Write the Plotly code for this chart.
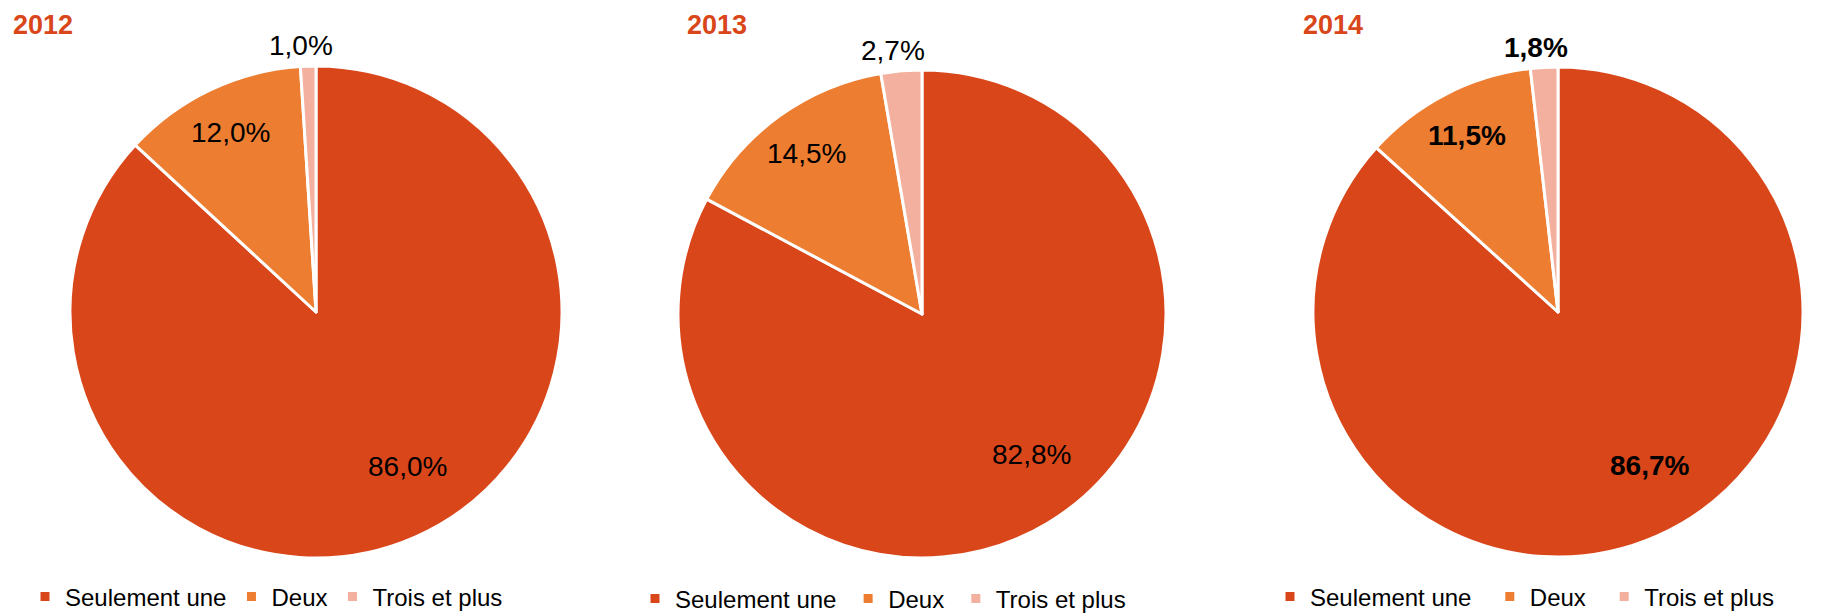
import math
import plotly.graph_objects as go

# ---- data ----
years = ["2012", "2013", "2014"]
categories = ["Seulement une", "Deux", "Trois et plus"]
values_2012 = [86.0, 12.0, 1.0]
values_2013 = [82.8, 14.5, 2.7]
values_2014 = [86.7, 11.5, 1.8]
series = [values_2012, values_2013, values_2014]
bold_labels = [False, False, True]

# ---- style ----
colors = ["#D9461A", "#ED7D31", "#F4B09E"]
title_color = "#D9461A"
FONT = "Arial, 'Liberation Sans', sans-serif"
W, H = 1833, 615

# pie centres / radii in pixels (layout)
pies = [(316, 312, 246), (922, 314, 244), (1558, 312, 245)]
title_x = [11, 685, 1301]
legend_pos = [(25, 597), (635, 599), (1270, 597)]
# label placement style: radius fraction and angular tweak (deg) per category
label_rfrac = [0.73, 0.81, 1.085]
label_dang = [-7.0, 0.0, -1.5]

fig = go.Figure()
legend_names = ["legend", "legend2", "legend3"]
for i, (yr, vals) in enumerate(zip(years, series)):
    cx, cy, r = pies[i]
    # trailing spaces keep legend entries distinct per pie (invisible)
    labels_i = [c + " " * i for c in categories]
    fig.add_trace(go.Pie(
        labels=labels_i,
        values=vals,
        sort=False,
        direction="clockwise",
        rotation=0,
        textinfo="none",
        marker=dict(colors=colors, line=dict(color="white", width=3)),
        domain=dict(x=[(cx - r) / W, (cx + r) / W],
                    y=[(H - cy - r) / H, (H - cy + r) / H]),
        legend=legend_names[i],
        hovertemplate="%{label}: %{value:.1f}%<extra></extra>",
        showlegend=True,
    ))
    # data labels, placed along each slice's bisector
    total = sum(vals)
    cum = 0.0
    for k, v in enumerate(vals):
        mid = (cum + v / 2) / total * 360 + label_dang[k]
        cum += v
        rr = r * label_rfrac[k]
        px = cx + rr * math.sin(math.radians(mid))
        py = cy - rr * math.cos(math.radians(mid))
        txt = f"{v:.1f}%".replace(".", ",")
        if bold_labels[i]:
            txt = f"<b>{txt}</b>"
        fig.add_annotation(
            text=txt, x=px / W, y=1 - py / H, xref="paper", yref="paper",
            xanchor="center", yanchor="middle", showarrow=False,
            font=dict(family=FONT, size=28, color="black"),
        )
    fig.add_annotation(
        text=f"<b>{yr}</b>", x=title_x[i] / W, y=1 - 25 / H,
        xref="paper", yref="paper", xanchor="left", yanchor="middle",
        showarrow=False, font=dict(family=FONT, size=27, color=title_color),
    )

leg_common = dict(orientation="h", xanchor="left", yanchor="middle",
                  font=dict(family=FONT, size=24, color="black"),
                  bgcolor="rgba(0,0,0,0)", traceorder="normal")
layout_legends = {}
for name, (lx, ly) in zip(legend_names, legend_pos):
    layout_legends[name] = dict(leg_common, x=lx / W, y=1 - ly / H)

fig.update_layout(
    width=W, height=H,
    margin=dict(l=0, r=0, t=0, b=0, autoexpand=False),
    paper_bgcolor="white", plot_bgcolor="white",
    separators=", ",
    font=dict(family=FONT),
    **layout_legends,
)

fig.write_html("out.html",
               config={"displayModeBar": False},
               post_script="document.body.style.margin='0';document.body.style.overflow='hidden';")
